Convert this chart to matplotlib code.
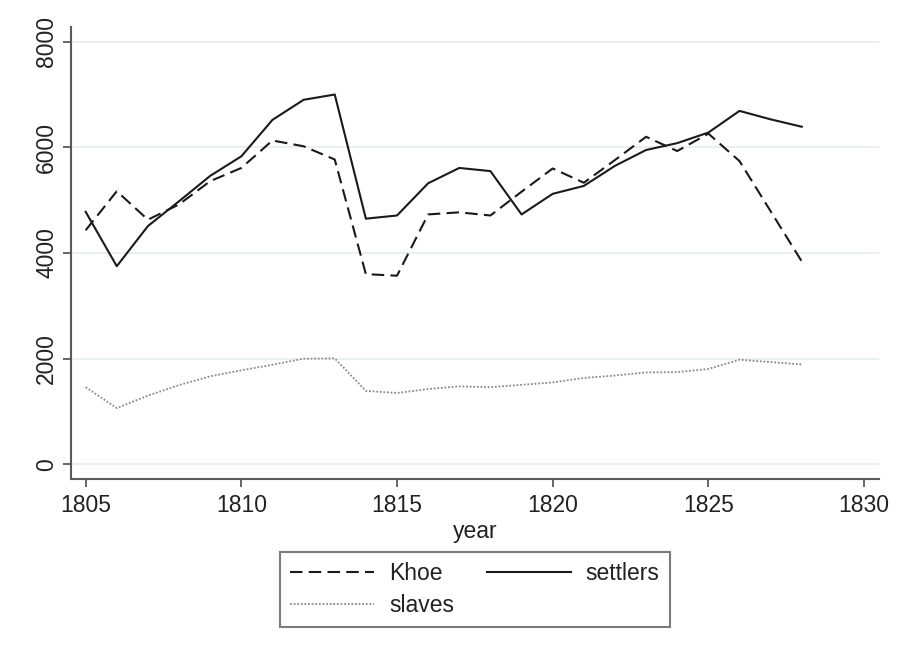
import matplotlib
matplotlib.use("Agg")
import matplotlib.pyplot as plt

plt.rcParams['font.family'] = ['Liberation Sans', 'DejaVu Sans']

years = list(range(1805, 1829))
khoe = [4430, 5170, 4630, 4920, 5360, 5610, 6130, 6020, 5770,
        3600, 3570, 4730, 4770, 4710, 5160, 5600, 5330, 5760,
        6200, 5930, 6260, 5740, 4790, 3840]
settlers = [4780, 3750, 4510, 4980, 5460, 5830, 6520, 6900, 7000,
            4650, 4710, 5320, 5610, 5550, 4730, 5120, 5270, 5650,
            5950, 6080, 6280, 6690, 6530, 6390]
slaves = [1460, 1065, 1300, 1500, 1665, 1780, 1885, 2000, 2005,
          1390, 1350, 1425, 1475, 1460, 1505, 1550, 1635, 1680,
          1740, 1745, 1805, 1980, 1935, 1890]

xticks = [1805, 1810, 1815, 1820, 1825, 1830]
yticks = [0, 2000, 4000, 6000, 8000]

axis_col = '#5a5a5a'
text_col = '#222222'

fig = plt.figure(figsize=(8.99, 6.56), dpi=100)
ax = fig.add_axes([70.7 / 899, 1 - 479 / 656, (879 - 70.7) / 899, (479 - 27) / 656])

ax.plot(years, khoe, color='#1a1a1a', lw=1.5, dashes=(6, 3), label='Khoe')
ax.plot(years, slaves, color='#8a8a8a', lw=1.3, linestyle=(0, (1, 1)), label='slaves')
ax.plot(years, settlers, color='#1a1a1a', lw=1.5, label='settlers')

ax.set_xlim(1804.52, 1830.48)
ax.set_ylim(-278, 8278)
ax.set_xticks(xticks)
ax.set_yticks(yticks)
ax.set_yticklabels([str(v) for v in yticks], rotation=90, va='center')

ax.grid(axis='y', color='#e4eef0', lw=1.2)
ax.set_axisbelow(True)

for side in ['top', 'right']:
    ax.spines[side].set_visible(False)
for side in ['left', 'bottom']:
    ax.spines[side].set_color(axis_col)
    ax.spines[side].set_linewidth(1.5)

ax.tick_params(axis='both', direction='out', length=6, width=1.3, color=axis_col,
               labelsize=16.5, labelcolor=text_col, pad=5)
ax.tick_params(axis='y', pad=3)
ax.set_xlabel('year', fontsize=16.5, color=text_col, labelpad=2)

handles, labels = ax.get_legend_handles_labels()
leg = fig.legend(handles, labels, loc='center', ncol=2,
                 bbox_to_anchor=(475 / 899, 1 - 589.5 / 656),
                 bbox_transform=fig.transFigure,
                 fontsize=16.5, frameon=True, fancybox=False,
                 handlelength=3.65, handletextpad=0.65, columnspacing=1.45,
                 labelspacing=0.4, borderpad=0.45)
leg.get_frame().set_edgecolor(axis_col)
leg.get_frame().set_linewidth(1.5)
for t in leg.get_texts():
    t.set_color(text_col)

fig.savefig('out.png', dpi=100)
